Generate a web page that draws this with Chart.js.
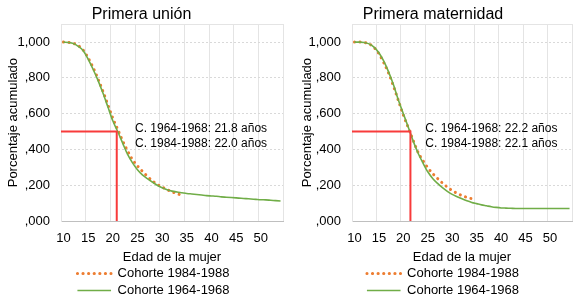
<!DOCTYPE html>
<html>
<head>
<meta charset="utf-8">
<script src="https://cdn.jsdelivr.net/npm/chart.js@4/dist/chart.umd.min.js"></script>
<style>
  body { margin: 0; background: #fff; }
  #wrap { width: 588px; height: 303px; display: flex; }
  canvas { display: block; }
</style>
</head>
<body>
<div id="wrap">
  <canvas id="unionChart" width="294" height="303"></canvas>
  <canvas id="materChart" width="294" height="303"></canvas>
</div>
<script>
// ages on the x axis (one category per year)
const ages = [10, 11, 12, 13, 14, 15, 16, 17, 18, 19, 20, 21, 22, 23, 24, 25, 26, 27, 28, 29,
    30, 31, 32, 33, 34, 35, 36, 37, 38, 39, 40, 41, 42, 43, 44, 45, 46, 47, 48, 49,
    50, 51, 52, 53, 54];
const agesYoung = [10, 11, 12, 13, 14, 15, 16, 17, 18, 19, 20, 21, 22, 23, 24, 25, 26, 27, 28, 29,
    30, 31, 32, 33, 34];
const xTickLabels = [10, 15, 20, 25, 30, 35, 40, 45, 50];
const xGridLines = [9.5, 14.5, 19.5, 24.5, 29.5, 34.5, 39.5, 44.5, 49.5, 54.5];
const yTickValues = [0, 0.2, 0.4, 0.6, 0.8, 1.0];

// Primera union
const union6468 = [1.000, 0.998, 0.992, 0.976, 0.952, 0.905, 0.848, 0.786, 0.715, 0.638,
    0.560, 0.500, 0.435, 0.372, 0.325, 0.287, 0.258, 0.237, 0.218, 0.200,
    0.186, 0.175, 0.167, 0.162, 0.158, 0.154, 0.151, 0.148, 0.145, 0.142,
    0.140, 0.138, 0.135, 0.133, 0.131, 0.129, 0.127, 0.125, 0.123, 0.121,
    0.119, 0.118, 0.116, 0.114, 0.112];
const union8488 = [1.000, 0.998, 0.993, 0.980, 0.955, 0.912, 0.858, 0.795, 0.725, 0.650,
    0.575, 0.512, 0.448, 0.392, 0.343, 0.308, 0.278, 0.250, 0.225, 0.205,
    0.190, 0.176, 0.163, 0.153, 0.144];
const unionMark = 20.8;
const unionNotes = ['C. 1964-1968: 21.8 años', 'C. 1984-1988: 22.0 años'];

// Primera maternidad
const mater6468 = [1.000, 1.000, 0.998, 0.990, 0.972, 0.940, 0.893, 0.832, 0.760, 0.675,
    0.600, 0.525, 0.448, 0.380, 0.325, 0.275, 0.238, 0.210, 0.186, 0.166,
    0.149, 0.136, 0.124, 0.113, 0.104, 0.097, 0.090, 0.085, 0.080, 0.076,
    0.073, 0.072, 0.071, 0.070, 0.070, 0.070, 0.070, 0.070, 0.070, 0.070,
    0.070, 0.070, 0.070, 0.070, 0.070];
const mater8488 = [1.000, 1.000, 0.998, 0.990, 0.970, 0.935, 0.885, 0.825, 0.752, 0.672,
    0.592, 0.522, 0.452, 0.385, 0.338, 0.298, 0.265, 0.238, 0.212, 0.190,
    0.170, 0.155, 0.142, 0.132, 0.125];
const materMark = 21.45;
const materNotes = ['C. 1964-1968: 22.2 años', 'C. 1984-1988: 22.1 años'];

const noteX = 24.5;
const noteY = [0.514, 0.43];

const FONT = "'Liberation Sans', Arial, sans-serif";

function toPoints(xs, ys) {
    return ys.map((v, i) => ({ x: xs[i], y: v }));
}

// text next to the red marker
const notesPlugin = {
    id: 'notes',
    afterDatasetsDraw(chart, args, opts) {
        const ctx = chart.ctx;
        const xs = chart.scales.x, ys = chart.scales.y;
        ctx.save();
        ctx.font = '12px ' + FONT;
        ctx.fillStyle = '#000';
        ctx.textAlign = 'left';
        ctx.textBaseline = 'middle';
        opts.lines.forEach((t, i) => {
            ctx.fillText(t, xs.getPixelForValue(opts.x), ys.getPixelForValue(opts.y[i]));
        });
        ctx.restore();
    }
};

// nudge legend to the right like the original
const legendShift = {
    id: 'legendShift',
    afterLayout(chart, args, opts) {
        chart.legend.left += opts.dx;
        chart.legend.right += opts.dx;
    }
};

function makeChart(id, title, c6468, c8488, mark, notes, yWidth, padRight, legendDx) {
    const ctx = document.getElementById(id);
    return new Chart(ctx, {
        type: 'line',
        data: {
            datasets: [
                {
                    label: 'Cohorte 1984-1988',
                    data: toPoints(agesYoung, c8488),
                    borderColor: '#ed7d31',
                    backgroundColor: 'transparent',
                    borderWidth: 3,
                    borderDash: [0.1, 5.5],
                    borderCapStyle: 'round',
                    pointRadius: 0,
                    cubicInterpolationMode: 'monotone',
                    order: 2
                },
                {
                    label: 'Cohorte 1964-1968',
                    data: toPoints(ages, c6468),
                    borderColor: '#70ad47',
                    backgroundColor: 'transparent',
                    borderWidth: 1.6,
                    pointRadius: 0,
                    cubicInterpolationMode: 'monotone',
                    order: 1
                },
                {
                    label: 'mark',
                    data: [{ x: 9.5, y: 0.5 }, { x: mark, y: 0.5 }, { x: mark, y: 0 }],
                    borderColor: '#f83b3b',
                    borderWidth: 2,
                    pointRadius: 0,
                    tension: 0,
                    order: 0
                }
            ]
        },
        options: {
            responsive: false,
            animation: false,
            layout: { padding: { left: 0, right: padRight, top: 0, bottom: -4 } },
            plugins: {
                title: {
                    display: true,
                    text: title,
                    color: '#000',
                    font: { family: FONT, size: 16, weight: 'normal' },
                    padding: { top: 5, bottom: 0 }
                },
                legend: {
                    position: 'bottom',
                    labels: {
                        color: '#000',
                        font: { family: FONT, size: 13 },
                        boxWidth: 33.6,
                        boxHeight: 0,
                        padding: 4,
                        filter: (item) => item.text !== 'mark',
                        sort: (a, b) => a.datasetIndex - b.datasetIndex
                    }
                },
                tooltip: { enabled: false },
                notes: { x: noteX, y: noteY, lines: notes },
                legendShift: { dx: legendDx }
            },
            scales: {
                x: {
                    type: 'linear',
                    min: 9.5,
                    max: 54.5,
                    afterBuildTicks: (s) => { s.ticks = xTickLabels.map(v => ({ value: v })); },
                    afterFit: (s) => { s.height = 42; },
                    grid: { display: false, drawTicks: false },
                    border: { display: true, color: '#bfbfbf', width: 1 },
                    ticks: {
                        color: '#000',
                        font: { family: FONT, size: 13 },
                        padding: 10,
                        autoSkip: false,
                        maxRotation: 0
                    },
                    title: {
                        display: true,
                        text: 'Edad de la mujer',
                        color: '#000',
                        font: { family: FONT, size: 13 },
                        padding: { top: 4, bottom: -2 }
                    }
                },
                xg: {
                    type: 'linear',
                    position: 'top',
                    min: 9.5,
                    max: 54.5,
                    afterBuildTicks: (s) => { s.ticks = xGridLines.map(v => ({ value: v })); },
                    afterFit: (s) => { s.height = 0; },
                    grid: { color: '#e4e4e4', drawTicks: false },
                    border: { display: true, color: '#e4e4e4' },
                    ticks: { display: false }
                },
                y: {
                    min: 0,
                    max: 1.1,
                    afterBuildTicks: (s) => { s.ticks = yTickValues.map(v => ({ value: v })); },
                    afterFit: (s) => { s.width = yWidth; },
                    grid: {
                        color: (c) => c.tick && c.tick.value === 0 ? 'transparent' : '#d9d9d9',
                        drawTicks: false
                    },
                    border: { display: true, color: '#e4e4e4', dash: [2, 2] },
                    ticks: {
                        color: '#000',
                        font: { family: FONT, size: 13 },
                        padding: 11,
                        callback: (v) => v === 1 ? '1,000' : ',' + String(Math.round(v * 1000)).padStart(3, '0')
                    },
                    title: {
                        display: true,
                        text: 'Porcentaje acumulado',
                        color: '#000',
                        font: { family: FONT, size: 13 },
                        padding: { top: 6, bottom: 0 }
                    }
                }
            }
        },
        plugins: [notesPlugin, legendShift]
    });
}

makeChart('unionChart', 'Primera unión', union6468, union8488, unionMark, unionNotes, 61, 11, 12);
makeChart('materChart', 'Primera maternidad', mater6468, mater8488, materMark, materNotes, 58, 16, 10);
</script>
</body>
</html>
